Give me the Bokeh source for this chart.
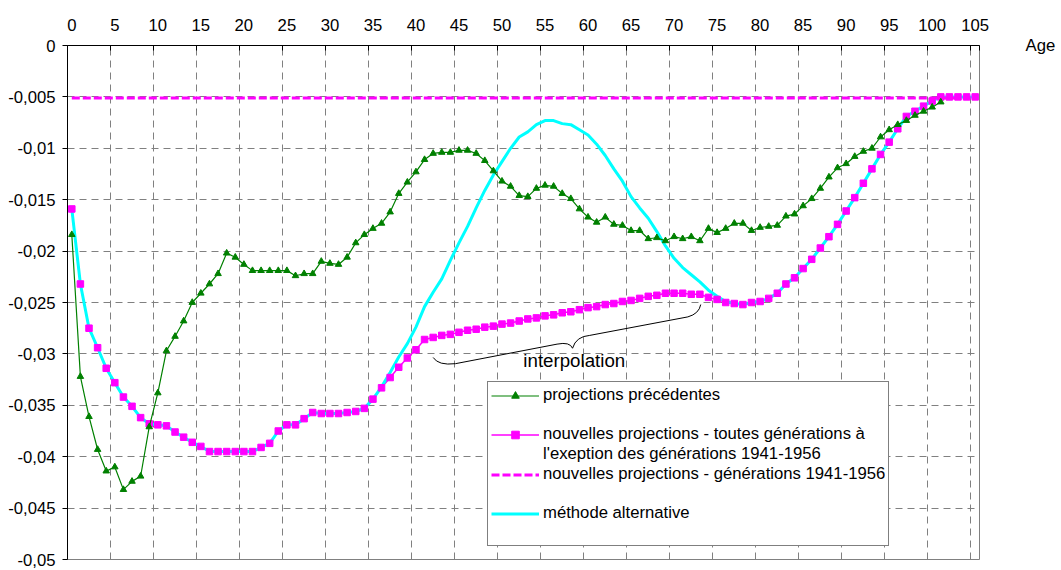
from bokeh.plotting import figure
from bokeh.models import FixedTicker, Range1d, Legend, LegendItem, Label, LinearAxis
from bokeh.embed import file_html
from bokeh.resources import INLINE

# ---------------- data ----------------
ages = list(range(0, 106))
ages_prev = list(range(0, 102))

projections_precedentes = [
    -0.0184, -0.0322, -0.0361, -0.0393, -0.0414, -0.0410, -0.0432, -0.0424, -0.0419, -0.0371,
    -0.0338, -0.0297, -0.0283, -0.0268, -0.0250, -0.0241, -0.0232, -0.0222, -0.0202, -0.0206,
    -0.0213, -0.0219, -0.0219, -0.0219, -0.0219, -0.0219, -0.0224, -0.0222, -0.0222, -0.0210,
    -0.0212, -0.0213, -0.0206, -0.0192, -0.0184, -0.0178, -0.0173, -0.0162, -0.0144, -0.0133,
    -0.0123, -0.0111, -0.0105, -0.0104, -0.0104, -0.0102, -0.0102, -0.0105, -0.0112, -0.0122,
    -0.0132, -0.0137, -0.0146, -0.0147, -0.0139, -0.0136, -0.0137, -0.0144, -0.0149, -0.0159,
    -0.0167, -0.0172, -0.0167, -0.0174, -0.0175, -0.0180, -0.0180, -0.0188, -0.0187, -0.0190,
    -0.0186, -0.0188, -0.0186, -0.0190, -0.0178, -0.0182, -0.0178, -0.0173, -0.0173, -0.0180,
    -0.0177, -0.0176, -0.0175, -0.0166, -0.0164, -0.0156, -0.0149, -0.0139, -0.0128, -0.0119,
    -0.0115, -0.0108, -0.0103, -0.0100, -0.0089, -0.0082, -0.0077, -0.0073, -0.0068, -0.0064,
    -0.0060, -0.0055,
]

nouvelles_toutes = [
    -0.0159, -0.0232, -0.0275, -0.0294, -0.0314, -0.0328, -0.0342, -0.0351, -0.0362, -0.0368,
    -0.0369, -0.0370, -0.0376, -0.0381, -0.0386, -0.0390, -0.0395, -0.0395, -0.0395, -0.0395,
    -0.0395, -0.0395, -0.0391, -0.0387, -0.0375, -0.0369, -0.0369, -0.0363, -0.0357, -0.0358,
    -0.0358, -0.0358, -0.0357, -0.0356, -0.0353, -0.0344, -0.0333, -0.0323, -0.0313, -0.0304,
    -0.0296, -0.0286, -0.0284, -0.0282, -0.0281, -0.0279, -0.0277, -0.0276, -0.0274, -0.0273,
    -0.0271, -0.0270, -0.0268, -0.0266, -0.0265, -0.0263, -0.0262, -0.0260, -0.0259, -0.0257,
    -0.0255, -0.0254, -0.0252, -0.0251, -0.0249, -0.0248, -0.0246, -0.0244, -0.0243, -0.0241,
    -0.0241, -0.0241, -0.0242, -0.0242, -0.0245, -0.0247, -0.0250, -0.0251, -0.0252, -0.0250,
    -0.0249, -0.0246, -0.0241, -0.0232, -0.0226, -0.0217, -0.0208, -0.0197, -0.0186, -0.0174,
    -0.0161, -0.0148, -0.0134, -0.0120, -0.0106, -0.0094, -0.0081, -0.0069, -0.0064, -0.0059,
    -0.0054, -0.0050, -0.0050, -0.0050, -0.0050, -0.0050,
]

nouvelles_1941_1956 = [-0.0051] * 106

methode_alternative = [
    -0.0159, -0.0232, -0.0275, -0.0294, -0.0314, -0.0328, -0.0342, -0.0351, -0.0362, -0.0368,
    -0.0369, -0.0370, -0.0376, -0.0381, -0.0386, -0.0390, -0.0395, -0.0395, -0.0395, -0.0395,
    -0.0395, -0.0395, -0.0391, -0.0387, -0.0375, -0.0369, -0.0369, -0.0363, -0.0357, -0.0358,
    -0.0358, -0.0358, -0.0357, -0.0356, -0.0353, -0.0344, -0.0332, -0.0318, -0.0303, -0.0290,
    -0.0274, -0.0254, -0.0240, -0.0227, -0.0209, -0.0192, -0.0176, -0.0158, -0.0141, -0.0126,
    -0.0113, -0.0100, -0.0089, -0.0084, -0.0077, -0.0073, -0.0073, -0.0076, -0.0077, -0.0082,
    -0.0087, -0.0096, -0.0107, -0.0120, -0.0132, -0.0147, -0.0158, -0.0168, -0.0181, -0.0195,
    -0.0207, -0.0216, -0.0223, -0.0230, -0.0238, -0.0244, -0.0249, -0.0251, -0.0252, -0.0250,
    -0.0249, -0.0246, -0.0241, -0.0232, -0.0226, -0.0217, -0.0208, -0.0197, -0.0186, -0.0174,
    -0.0161, -0.0148, -0.0134, -0.0120, -0.0106, -0.0094, -0.0081, -0.0069, -0.0064, -0.0059,
    -0.0054, -0.0050, -0.0050, -0.0050, -0.0050, -0.0050,
]

x_tick_values = list(range(0, 106, 5))
x_tick_marks = [-0.5 + 5 * i for i in range(22)] + [105.5]
x_grid_values = [4.5 + 5 * i for i in range(21)]
y_tick_values = [0, -0.005, -0.01, -0.015, -0.02, -0.025, -0.03, -0.035, -0.04, -0.045, -0.05]
y_tick_labels = ["0", "-0,005", "-0,01", "-0,015", "-0,02", "-0,025", "-0,03", "-0,035",
                 "-0,04", "-0,045", "-0,05"]
y_grid_values = y_tick_values[1:-1]
x_axis_title = "Age"

# "interpolation" brace (annotation, data coordinates)
brace_q_x0 = [42.0, 56.4, 58.2, 71.6]
brace_q_y0 = [-0.03035, -0.02905, -0.02945, -0.0264]
brace_q_cx = [42.6, 57.9, 58.6, 72.9]
brace_q_cy = [-0.03115, -0.0288, -0.0283, -0.0261]
brace_q_x1 = [44.6, 58.2, 60.2, 73.1]
brace_q_y1 = [-0.03095, -0.02945, -0.0282, -0.0252]
brace_s_x0 = [44.6, 60.2]
brace_s_y0 = [-0.03095, -0.0282]
brace_s_x1 = [56.4, 71.6]
brace_s_y1 = [-0.02905, -0.0264]

FONT = "Liberation Sans"
GREEN = "#008000"
MAGENTA = "#FF00FF"
CYAN = "#00FFFF"

p = figure(width=1061, height=570, x_range=Range1d(-0.5, 105.5), y_range=Range1d(-0.05, 0),
           x_axis_location="above", output_backend="svg", toolbar_location=None,
           min_border_left=67, min_border_right=82, min_border_top=45, min_border_bottom=11,
           background_fill_color="white", border_fill_color="white")
p.outline_line_color = "#808080"
p.outline_line_width = 1

# x axis (top)
xa = p.xaxis[0]
xa.ticker = FixedTicker(ticks=x_tick_values, minor_ticks=x_tick_marks)
xa.major_tick_line_color = None
xa.major_tick_in = 0
xa.major_tick_out = 0
xa.minor_tick_line_color = "black"
xa.minor_tick_in = 5
xa.minor_tick_out = 0
xa.axis_line_color = "black"
xa.major_label_text_font = FONT
xa.major_label_text_font_size = "16.7px"
xa.major_label_text_color = "black"
xa.major_label_standoff = 15

# y axis
ya = p.yaxis[0]
ya.ticker = FixedTicker(ticks=y_tick_values)
ya.major_label_overrides = dict(zip(y_tick_values, y_tick_labels))
ya.minor_tick_line_color = None
ya.major_tick_in = 0
ya.major_tick_out = 5
ya.major_tick_line_color = "black"
ya.axis_line_color = "black"
ya.major_label_text_font = FONT
ya.major_label_text_font_size = "16.7px"
ya.major_label_text_color = "black"
ya.major_label_standoff = 7

# "Age" title, placed at the top right as an axis label on the right side
age_axis = LinearAxis(ticker=FixedTicker(ticks=[0]),
                      major_label_overrides={0: x_axis_title})
age_axis.axis_line_color = None
age_axis.major_tick_line_color = None
age_axis.minor_tick_line_color = None
age_axis.major_tick_in = 0
age_axis.major_tick_out = 0
age_axis.major_label_standoff = 46
age_axis.major_label_text_baseline = "bottom"
age_axis.major_label_text_font = FONT
age_axis.major_label_text_font_size = "16.7px"
age_axis.major_label_text_color = "black"
p.add_layout(age_axis, "right")

# grids
p.xgrid.ticker = FixedTicker(ticks=x_grid_values)
p.ygrid.ticker = FixedTicker(ticks=y_grid_values)
for g in (p.xgrid[0], p.ygrid[0]):
    g.grid_line_color = "#808080"
    g.grid_line_dash = "7 5"
    g.grid_line_width = 1

# series
m_line = p.line(ages, nouvelles_toutes, line_color=MAGENTA, line_width=1.5)
c_line = p.line(ages, methode_alternative, line_color=CYAN, line_width=3)
m_pts = p.scatter(ages, nouvelles_toutes, marker="square", size=6.5,
                  fill_color=MAGENTA, line_color=MAGENTA)
d_line = p.line(ages, nouvelles_1941_1956, line_color=MAGENTA, line_width=3, line_dash="8 3")
g_line = p.line(ages_prev, projections_precedentes, line_color=GREEN, line_width=1.2)
g_pts = p.scatter(ages_prev, projections_precedentes, marker="triangle", size=6.5,
                  fill_color=GREEN, line_color=GREEN)

# brace + annotation
p.quadratic(x0=brace_q_x0, y0=brace_q_y0, x1=brace_q_x1, y1=brace_q_y1,
            cx=brace_q_cx, cy=brace_q_cy, line_color="black", line_width=1)
p.segment(x0=brace_s_x0, y0=brace_s_y0, x1=brace_s_x1, y1=brace_s_y1,
          line_color="black", line_width=1)
p.add_layout(Label(x=58.4, y=-0.0306, text="interpolation", text_font=FONT,
                   text_font_size="18.7px", text_align="center", text_baseline="middle",
                   text_color="black"))

# legend
dummy = p.line([], [], line_alpha=0)
items = [
    LegendItem(label="projections précédentes", renderers=[g_line, g_pts]),
    LegendItem(label=" ", renderers=[dummy]),
    LegendItem(label="nouvelles projections - toutes générations à", renderers=[m_line, m_pts]),
    LegendItem(label="l'exeption des générations 1941-1956", renderers=[dummy]),
    LegendItem(label="nouvelles projections - générations 1941-1956", renderers=[d_line]),
    LegendItem(label="  ", renderers=[dummy]),
    LegendItem(label="méthode alternative", renderers=[c_line]),
    LegendItem(label="   ", renderers=[dummy]),
]
legend = Legend(items=items, location=(420, 13), spacing=0, padding=3, margin=0,
                glyph_width=48, glyph_height=19, label_height=19, label_standoff=4,
                border_line_color="black", border_line_width=1,
                background_fill_color="white", background_fill_alpha=1,
                label_text_font=FONT, label_text_font_size="16.7px", label_text_color="black")
p.add_layout(legend)

open("out.html", "w").write(file_html(p, INLINE))
